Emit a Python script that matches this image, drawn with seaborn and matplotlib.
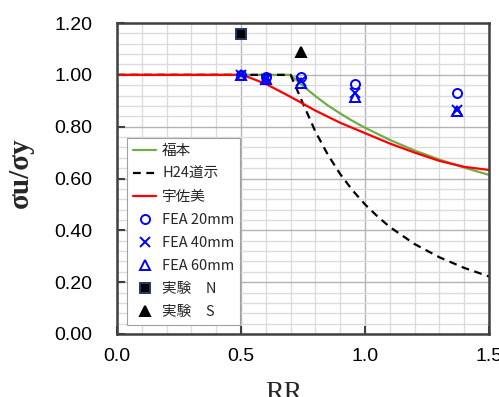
import numpy as np
import pandas as pd
import matplotlib
matplotlib.use("Agg")
import matplotlib.pyplot as plt
from matplotlib.ticker import MultipleLocator, FormatStrFormatter
import seaborn as sns

# ---- data ----
fuk_rr = [0.0, 0.5, 0.70, 0.75, 0.80, 0.85, 0.90, 0.95, 1.00, 1.10, 1.20, 1.30, 1.40, 1.50]
fuk_su = [1.00, 1.00, 1.00, 0.957, 0.918, 0.882, 0.851, 0.822, 0.796, 0.749, 0.708, 0.673, 0.642, 0.614]

h24_rr = [0.0, 0.5, 0.70, 0.75, 0.80, 0.85, 0.90, 0.95, 1.00, 1.05, 1.10, 1.20, 1.30, 1.40, 1.50]
h24_su = [1.00, 1.00, 1.00, 0.889, 0.781, 0.692, 0.617, 0.554, 0.500, 0.454, 0.413, 0.347, 0.296, 0.255, 0.222]

usa_rr = [0.0, 0.48, 0.52, 0.60, 0.70, 0.80, 0.90, 1.00, 1.10, 1.20, 1.30, 1.40, 1.50]
usa_su = [1.00, 1.00, 0.995, 0.965, 0.915, 0.862, 0.815, 0.775, 0.735, 0.700, 0.668, 0.645, 0.633]

fea_rr = [0.50, 0.60, 0.74, 0.96, 1.37]
fea20_su = [1.00, 0.99, 0.99, 0.965, 0.93]
fea40_su = [1.00, 0.985, 0.975, 0.93, 0.865]
fea60_su = [1.00, 0.985, 0.97, 0.915, 0.862]

expN_rr, expN_su = [0.50], [1.157]
expS_rr, expS_su = [0.74], [1.09]

# ---- style ----
sns.set_theme(style="white")
plt.rcParams["font.family"] = ["Liberation Sans", "DejaVu Sans"]

fig, ax = plt.subplots(figsize=(4.99, 3.97), dpi=100)
fig.subplots_adjust(left=0.2345, right=0.98, bottom=0.1587, top=0.942)

# curves
sns.lineplot(x=fuk_rr, y=fuk_su, ax=ax, color="#70AD47", linewidth=1.6, label="福本", sort=False, estimator=None)
sns.lineplot(x=h24_rr, y=h24_su, ax=ax, color="black", linewidth=1.6, label="H24道示", sort=False, estimator=None)
ax.lines[-1].set_dashes((3.5, 2.5))
sns.lineplot(x=usa_rr, y=usa_su, ax=ax, color="#FF0000", linewidth=1.6, label="宇佐美", sort=False, estimator=None)

# markers
pt = dict(ax=ax, linestyle="", sort=False, estimator=None, markersize=6.5, markeredgewidth=1.4)
sns.lineplot(x=fea_rr, y=fea20_su, marker="o", color="#0000FF", markerfacecolor="none",
             markeredgecolor="#0000FF", label="FEA 20mm", **pt)
sns.lineplot(x=fea_rr, y=fea40_su, marker="x", color="#0000FF",
             markeredgecolor="#0000FF", label="FEA 40mm", **pt)
sns.lineplot(x=fea_rr, y=fea60_su, marker="^", color="#0000FF", markerfacecolor="none",
             markeredgecolor="#0000FF", label="FEA 60mm", **pt)
sns.lineplot(x=expN_rr, y=expN_su, marker="s", color="black", markerfacecolor="black",
             markeredgecolor="#1f3864", label="実験\u3000N", **pt)
sns.lineplot(x=expS_rr, y=expS_su, marker="^", color="black", markerfacecolor="black",
             markeredgecolor="black", label="実験\u3000S", **pt)

# axes
ax.set_xlim(0, 1.5)
ax.set_ylim(0, 1.2)
ax.xaxis.set_major_locator(MultipleLocator(0.5))
ax.xaxis.set_minor_locator(MultipleLocator(0.1))
ax.yaxis.set_major_locator(MultipleLocator(0.2))
ax.yaxis.set_minor_locator(MultipleLocator(0.04))
ax.xaxis.set_major_formatter(FormatStrFormatter("%.1f"))
ax.yaxis.set_major_formatter(FormatStrFormatter("%.2f"))
ax.grid(which="minor", color="#dcdcdc", linewidth=1.0)
ax.grid(which="major", color="#b4b4b4", linewidth=1.0)
ax.set_axisbelow(True)
ax.tick_params(which="major", direction="in", length=6, width=1.5, color="#404040",
               labelsize=14, labelcolor="black", left=True, bottom=True)
ax.tick_params(axis="y", pad=18)
ax.tick_params(axis="x", pad=10)
ax.tick_params(which="minor", length=0)
for s in ax.spines.values():
    s.set_color("#404040")
    s.set_linewidth(1.8)

ax.set_xlabel("RR", family="Liberation Serif", fontsize=20)
ax.xaxis.set_label_coords(0.449, -0.152)
ax.set_ylabel("σu/σy", family="Liberation Serif", fontsize=21, fontweight="bold")
ax.yaxis.set_label_coords(-0.26, 0.52)
ax.yaxis.label.set_verticalalignment("center")

leg = ax.legend(loc="lower left", bbox_to_anchor=(0.027, 0.029), frameon=True, fancybox=False,
                framealpha=1, edgecolor="#a0a0a0", handlelength=1.6, handletextpad=0.4,
                labelspacing=0.62, borderpad=0.4, borderaxespad=0,
                prop={"family": ["Noto Sans CJK JP", "DejaVu Sans"], "size": 10.5})
leg.get_frame().set_linewidth(0.8)

fig.savefig("out.png", dpi=100)
